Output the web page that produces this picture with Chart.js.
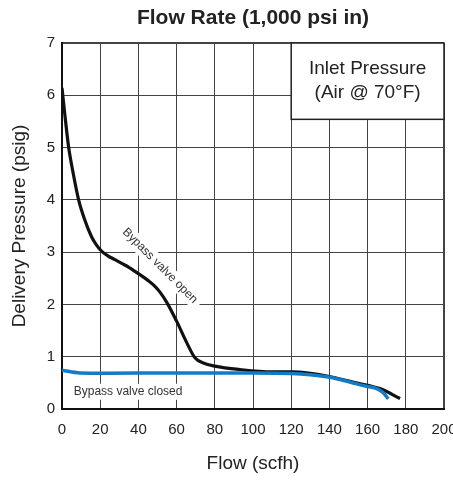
<!DOCTYPE html>
<html lang="en">
<head>
  <meta charset="utf-8">
  <title>Flow Rate (1,000 psi in)</title>
  <script src="https://cdn.jsdelivr.net/npm/chart.js@4/dist/chart.umd.min.js"></script>
  <style>
    body { margin:0; background:#fff; }
    #wrap { width:453px; height:480px; position:relative; }
  </style>
</head>
<body>
  <div id="wrap"><canvas id="flowChart"></canvas></div>

  <script>
    // data
    const openFlow     = [0, 1.4, 3.5, 5.8, 8.7, 11.9, 15.4, 18, 20.7, 24, 27.5, 31, 35, 40.8, 45, 48, 51, 55, 60, 65.3, 69.6, 74, 80, 93, 110, 121, 128, 140, 154, 166.5, 177];
    const openPressure = [6.14, 5.66, 5.0, 4.52, 4.0, 3.62, 3.30, 3.14, 3.02, 2.93, 2.86, 2.79, 2.71, 2.57, 2.46, 2.37, 2.25, 2.03, 1.68, 1.27, 0.98, 0.88, 0.82, 0.755, 0.71, 0.71, 0.69, 0.62, 0.50, 0.39, 0.20];
    const closedFlow     = [0, 9.4, 23, 60, 100, 120, 130, 138.6, 147, 154.3, 160, 164.8, 168.2, 170.8];
    const closedPressure = [0.74, 0.69, 0.685, 0.69, 0.69, 0.68, 0.655, 0.615, 0.55, 0.48, 0.43, 0.39, 0.31, 0.195];
    const xTicks = [0, 20, 40, 60, 80, 100, 120, 140, 160, 180, 200];
    const yTicks = [0, 1, 2, 3, 4, 5, 6, 7];
    const boxLines = ['Inlet Pressure', '(Air @ 70°F)'];

    const FONT = "'Liberation Sans', Arial, sans-serif";
    const toPts = (xs, ys) => xs.map((x, i) => ({x, y: ys[i]}));

    // inset box + curve captions
    const notes = {
      id: 'notes',
      afterDatasetsDraw(chart) {
        const {ctx, chartArea: a, scales: {x, y}} = chart;
        ctx.save();
        // inlet pressure box
        const bx = x.getPixelForValue(120), by = y.getPixelForValue(5.54);
        ctx.fillStyle = '#fff';
        ctx.fillRect(bx, a.top, a.right - bx, by - a.top);
        ctx.strokeStyle = '#222';
        ctx.lineWidth = 1.5;
        ctx.strokeRect(bx, a.top, a.right - bx, by - a.top);
        ctx.fillStyle = '#222';
        ctx.font = `19px ${FONT}`;
        ctx.textAlign = 'center';
        ctx.textBaseline = 'middle';
        const cx = (bx + a.right) / 2, cy = (a.top + by) / 2;
        ctx.fillText(boxLines[0], cx, cy - 12);
        ctx.fillText(boxLines[1], cx, cy + 12);

        // rotated caption
        ctx.font = `12px ${FONT}`;
        ctx.translate(x.getPixelForValue(51.3), y.getPixelForValue(2.74));
        ctx.rotate(Math.PI / 4);
        let w = ctx.measureText('Bypass valve open').width;
        ctx.fillStyle = '#fff';
        ctx.fillRect(-w / 2 - 5, -8, w + 10, 16);
        ctx.fillStyle = '#333';
        ctx.fillText('Bypass valve open', 0, 0);
        ctx.setTransform(1, 0, 0, 1, 0, 0);

        ctx.font = `12px ${FONT}`;
        const lx = x.getPixelForValue(34.6), ly = y.getPixelForValue(0.33);
        w = ctx.measureText('Bypass valve closed').width;
        ctx.fillStyle = '#fff';
        ctx.fillRect(lx - w / 2 - 3, ly - 8, w + 6, 16);
        ctx.fillStyle = '#333';
        ctx.fillText('Bypass valve closed', lx, ly);
        ctx.restore();
      }
    };

    new Chart(document.getElementById('flowChart'), {
      type: 'line',
      data: {
        datasets: [
          {
            label: 'Bypass valve closed',
            data: toPts(closedFlow, closedPressure),
            borderColor: '#137bc4',
            borderWidth: 3.5,
            pointRadius: 0,
            cubicInterpolationMode: 'monotone'
          },
          {
            label: 'Bypass valve open',
            data: toPts(openFlow, openPressure),
            borderColor: '#111',
            borderWidth: 3.2,
            pointRadius: 0,
            cubicInterpolationMode: 'monotone'
          }
        ]
      },
      options: {
        responsive: true,
        maintainAspectRatio: false,
        animation: false,
        layout: { padding: { left: 0, right: 9, top: 0, bottom: 0 } },
        plugins: {
          legend: { display: false },
          tooltip: { enabled: false },
          title: {
            display: true,
            text: 'Flow Rate (1,000 psi in)',
            fullSize: false,
            color: '#222',
            font: { family: FONT, size: 21, weight: 'bold' },
            padding: { top: 6, bottom: 11.8 }
          }
        },
        scales: {
          x: {
            type: 'linear',
            min: 0, max: 200,
            afterBuildTicks: s => { s.ticks = xTicks.map(v => ({value: v})); },
            afterFit: s => { s.height = 71; s.paddingLeft = 0; s.paddingRight = 0; },
            ticks: { color: '#222', font: { family: FONT, size: 15 }, padding: 12, maxRotation: 0, autoSkip: false },
            grid: { color: '#444', drawTicks: false, lineWidth: c => (c.tick && c.tick.value === 200) ? 2 : 1 },
            border: { display: true, color: '#111', width: 2 },
            title: { display: true, text: 'Flow (scfh)', color: '#222', font: { family: FONT, size: 19 }, padding: { top: 0, bottom: 5 } }
          },
          y: {
            min: 0, max: 7,
            afterBuildTicks: s => { s.ticks = yTicks.map(v => ({value: v})); },
            afterFit: s => { s.width = 62; s.paddingTop = 0; s.paddingBottom = 0; },
            ticks: { color: '#222', font: { family: FONT, size: 15 }, padding: 7 },
            grid: { color: '#444', drawTicks: false, lineWidth: c => (c.tick && c.tick.value === 7) ? 2 : 1 },
            border: { display: true, color: '#111', width: 2 },
            title: { display: true, text: 'Delivery Pressure (psig)', color: '#222', font: { family: FONT, size: 19 }, padding: { top: 8, bottom: 0 } }
          }
        }
      },
      plugins: [notes]
    });
  </script>
</body>
</html>
